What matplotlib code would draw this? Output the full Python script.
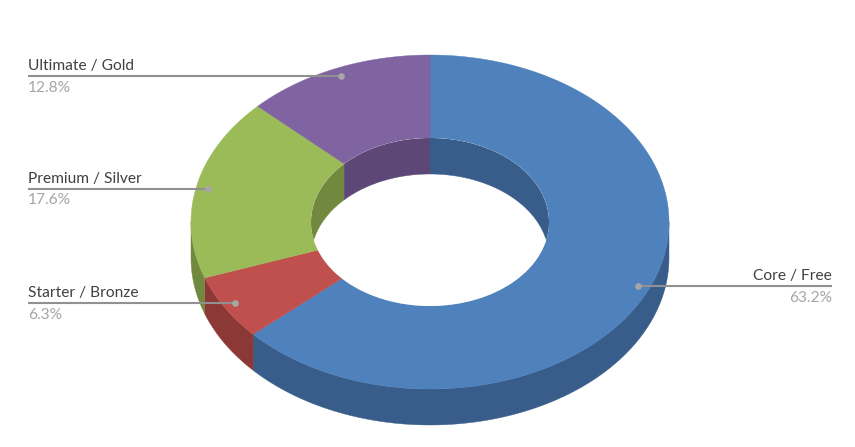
import numpy as np
import matplotlib.pyplot as plt
from matplotlib.patches import Ellipse, PathPatch
from matplotlib.path import Path

# ==================== DATA ====================
labels = ['Core / Free', 'Starter / Bronze', 'Premium / Silver', 'Ultimate / Gold']
values = [63.2, 6.3, 17.6, 12.8]
pct_labels = ['63.2%', '6.3%', '17.6%', '12.8%']

# ==================== STYLE ====================
top_colors = ['#4F81BD', '#C0504D', '#9BBB59', '#8064A2']
side_colors = ['#385D8A', '#8C3836', '#71893F', '#5C4776']

# Geometry of the tilted ring, in pixels
cx, cy = 430, 222
rx_out, ry_out = 239, 167
rx_in, ry_in = 119, 84
depth = 36
dot_frac = 0.95
left_x, right_x = 28, 832


def ellipse_pts(theta, rx, ry, dy=0):
    """theta is measured clockwise from the top, in radians."""
    return np.column_stack([cx + rx * np.sin(theta), cy - ry * np.cos(theta) + dy])


def arc(a, b):
    return np.linspace(a, b, max(int(abs(b - a) * 60), 2))


plt.rcParams['font.family'] = ['Lato', 'DejaVu Sans']
fig = plt.figure(figsize=(8.55, 4.47), dpi=100)
ax = fig.add_axes([0, 0, 1, 1])
ax.set_xlim(0, 855)
ax.set_ylim(447, 0)
ax.axis('off')

edges = np.concatenate([[0], np.cumsum(values)]) / sum(values) * 2 * np.pi

# Outer wall: only the front half (pi/2 .. 3pi/2) can be seen
for i in range(len(values)):
    a, b = max(edges[i], np.pi / 2), min(edges[i + 1], 3 * np.pi / 2)
    if b <= a:
        continue
    th = arc(a, b)
    pts = np.vstack([ellipse_pts(th, rx_out, ry_out),
                     ellipse_pts(th[::-1], rx_out, ry_out, depth)])
    ax.fill(pts[:, 0], pts[:, 1], color=side_colors[i], lw=0.3, zorder=1)

# Top face of each slice
for i in range(len(values)):
    th = arc(edges[i], edges[i + 1])
    pts = np.vstack([ellipse_pts(th, rx_out, ry_out),
                     ellipse_pts(th[::-1], rx_in, ry_in)])
    ax.fill(pts[:, 0], pts[:, 1], color=top_colors[i], lw=0.3, zorder=2)

# Hole, then the inner wall seen through it: only the back half can be seen
ax.add_patch(Ellipse((cx, cy), 2 * rx_in, 2 * ry_in, fc='white', ec='none', zorder=3))
hole_clip = Ellipse((cx, cy), 2 * rx_in, 2 * ry_in, transform=ax.transData)
for i in range(len(values)):
    spans = [(edges[i], min(edges[i + 1], np.pi / 2)),
             (max(edges[i], 3 * np.pi / 2), edges[i + 1])]
    for a, b in spans:
        if b <= a:
            continue
        th = arc(a, b)
        pts = np.vstack([ellipse_pts(th, rx_in, ry_in),
                         ellipse_pts(th[::-1], rx_in, ry_in, depth)])
        wall = PathPatch(Path(np.vstack([pts, pts[:1]])), fc=side_colors[i],
                         ec=side_colors[i], lw=0.3, zorder=4)
        ax.add_patch(wall)
        wall.set_clip_path(hole_clip)

# Leader lines and labels
for i in range(len(values)):
    mid = (edges[i] + edges[i + 1]) / 2
    dot = ellipse_pts(np.array([mid]), rx_out * dot_frac, ry_out * dot_frac)[0]
    on_right = np.sin(mid) > 0
    x_end = right_x if on_right else left_x
    ha = 'right' if on_right else 'left'
    ax.plot([dot[0], x_end], [dot[1], dot[1]], color='#919191', lw=1.5,
            solid_capstyle='butt', zorder=5)
    ax.plot(dot[0], dot[1], 'o', ms=4.8, color='#A6A6A6', mew=0, zorder=6)
    ax.text(x_end, dot[1] - 3, labels[i], ha=ha, va='bottom', fontsize=11.2,
            color='#404040', zorder=7)
    ax.text(x_end, dot[1] + 4.5, pct_labels[i], ha=ha, va='top', fontsize=11.2,
            color='#A6A6A6', zorder=7)

fig.savefig('out.png', dpi=100, facecolor='white')
